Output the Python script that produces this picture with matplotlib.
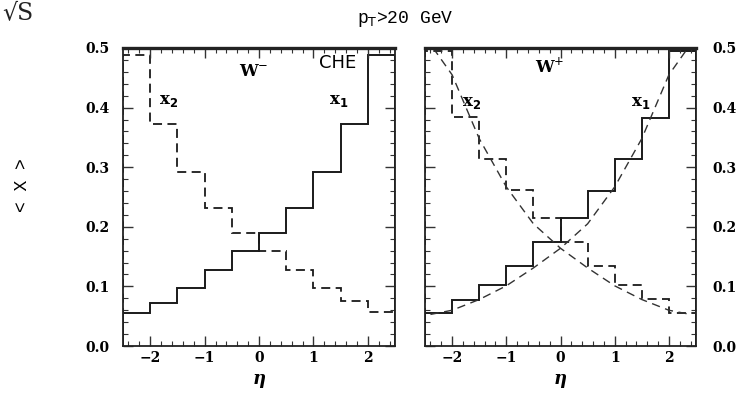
import matplotlib
matplotlib.use("Agg")
import matplotlib.pyplot as plt
from matplotlib.ticker import MultipleLocator

# bin edges in eta
eta_edges = [-2.5, -2.0, -1.5, -1.0, -0.5, 0.0, 0.5, 1.0, 1.5, 2.0, 2.5]

# W- (CHE)
wm_x1 = [0.055, 0.073, 0.098, 0.128, 0.160, 0.189, 0.231, 0.292, 0.373, 0.488]
wm_x2 = [0.488, 0.373, 0.292, 0.231, 0.189, 0.160, 0.128, 0.098, 0.075, 0.057]

# W+
wp_x1 = [0.056, 0.077, 0.103, 0.134, 0.174, 0.215, 0.260, 0.313, 0.383, 0.495]
wp_x2 = [0.495, 0.384, 0.313, 0.261, 0.214, 0.175, 0.135, 0.102, 0.079, 0.056]

# smooth reference curves in the W+ panel
curve_eta = [-2.4, -2.0, -1.5, -1.0, -0.5, 0.0, 0.5, 1.0, 1.5, 2.0, 2.35]
curve_x1 = [0.053, 0.060, 0.078, 0.101, 0.131, 0.164, 0.205, 0.267, 0.348, 0.455, 0.500]
curve_eta2 = [-2.35, -2.0, -1.5, -1.0, -0.5, 0.0, 0.5, 1.0, 1.5, 2.0, 2.4]
curve_x2 = [0.500, 0.455, 0.348, 0.267, 0.205, 0.164, 0.131, 0.101, 0.078, 0.060, 0.053]

yticks = [0.0, 0.1, 0.2, 0.3, 0.4, 0.5]
ytick_labels = ["0.0", "0.1", "0.2", "0.3", "0.4", "0.5"]
xticks = [-2, -1, 0, 1, 2]
xtick_labels = ["\u22122", "\u22121", "0", "1", "2"]

tickfont = dict(family="DejaVu Serif", weight="bold", size=10)
mono = "Liberation Mono"

fig = plt.figure(figsize=(7.42, 3.99), dpi=100)
ax1 = fig.add_axes([0.1658, 0.1328, 0.3666, 0.7469])
ax2 = fig.add_axes([0.5728, 0.1328, 0.3652, 0.7469])

dash = (0, (5, 3))

for ax in (ax1, ax2):
    ax.set_xlim(-2.5, 2.5)
    ax.set_ylim(0, 0.5)
    ax.xaxis.set_minor_locator(MultipleLocator(0.2))
    ax.yaxis.set_minor_locator(MultipleLocator(0.02))
    ax.tick_params(which="both", direction="in", top=True, right=True, left=True,
                   color="#333333")
    ax.tick_params(which="major", length=7, width=1)
    ax.tick_params(which="minor", length=3.5, width=0.8)
    for s in ax.spines.values():
        s.set_linewidth(1.3)
        s.set_color("#222222")
    ax.spines["top"].set_linewidth(2.4)
    ax.set_xticks(xticks)
    ax.set_xticklabels(xtick_labels, fontdict=tickfont)
    ax.set_yticks(yticks)
    ax.set_xlabel("\u03b7", fontsize=13, fontweight="bold", fontstyle="italic",
                  family="DejaVu Serif", labelpad=4)

ax1.set_yticklabels(ytick_labels, fontdict=tickfont)
ax1.tick_params(axis="y", pad=10)
ax2.yaxis.tick_right()
ax2.tick_params(which="both", left=True, right=True, direction="in")
ax2.set_yticklabels(ytick_labels, fontdict=tickfont)
ax2.tick_params(axis="y", pad=12)

# left panel: W-
ax1.stairs(wm_x1, eta_edges, color="#1a1a1a", lw=1.4)
ax1.stairs(wm_x2, eta_edges, color="#1a1a1a", lw=1.3, linestyle=dash)
ax1.text(-0.1, 0.46, "W$^{-}$", fontsize=12, family="DejaVu Serif", fontweight="bold",
         ha="center", va="center")
ax1.text(1.45, 0.475, "CHE", fontsize=13, family="DejaVu Sans", ha="center", va="center")
ax1.text(-1.67, 0.412, "x$_{\\mathbf{2}}$", fontsize=12, family="DejaVu Serif",
         fontweight="bold", ha="center", va="center")
ax1.text(1.47, 0.412, "x$_{\\mathbf{1}}$", fontsize=12, family="DejaVu Serif",
         fontweight="bold", ha="center", va="center")

# right panel: W+
ax2.stairs(wp_x1, eta_edges, color="#1a1a1a", lw=1.4)
ax2.stairs(wp_x2, eta_edges, color="#1a1a1a", lw=1.3, linestyle=dash)
ax2.plot(curve_eta, curve_x1, color="#333333", lw=1.0, linestyle=(0, (6, 4)))
ax2.plot(curve_eta2, curve_x2, color="#333333", lw=1.0, linestyle=(0, (6, 4)))
ax2.text(-0.2, 0.468, "W$^{+}$", fontsize=12, family="DejaVu Serif", fontweight="bold",
         ha="center", va="center")
ax2.text(-1.64, 0.408, "x$_{\\mathbf{2}}$", fontsize=12, family="DejaVu Serif",
         fontweight="bold", ha="center", va="center")
ax2.text(1.47, 0.408, "x$_{\\mathbf{1}}$", fontsize=12, family="DejaVu Serif",
         fontweight="bold", ha="center", va="center")

fig.text(0.546, 0.953, "p$_{\\mathrm{T}}$>20 GeV", family=mono, fontsize=13,
         ha="center", va="center")
fig.text(0.03, 0.535, "< X >", family=mono, fontsize=13, rotation=90,
         ha="center", va="center")
fig.text(0.003, 0.998, "\u221aS", family="DejaVu Serif", fontsize=17,
         ha="left", va="top", color="#222222")

fig.savefig("out.png", dpi=100)
